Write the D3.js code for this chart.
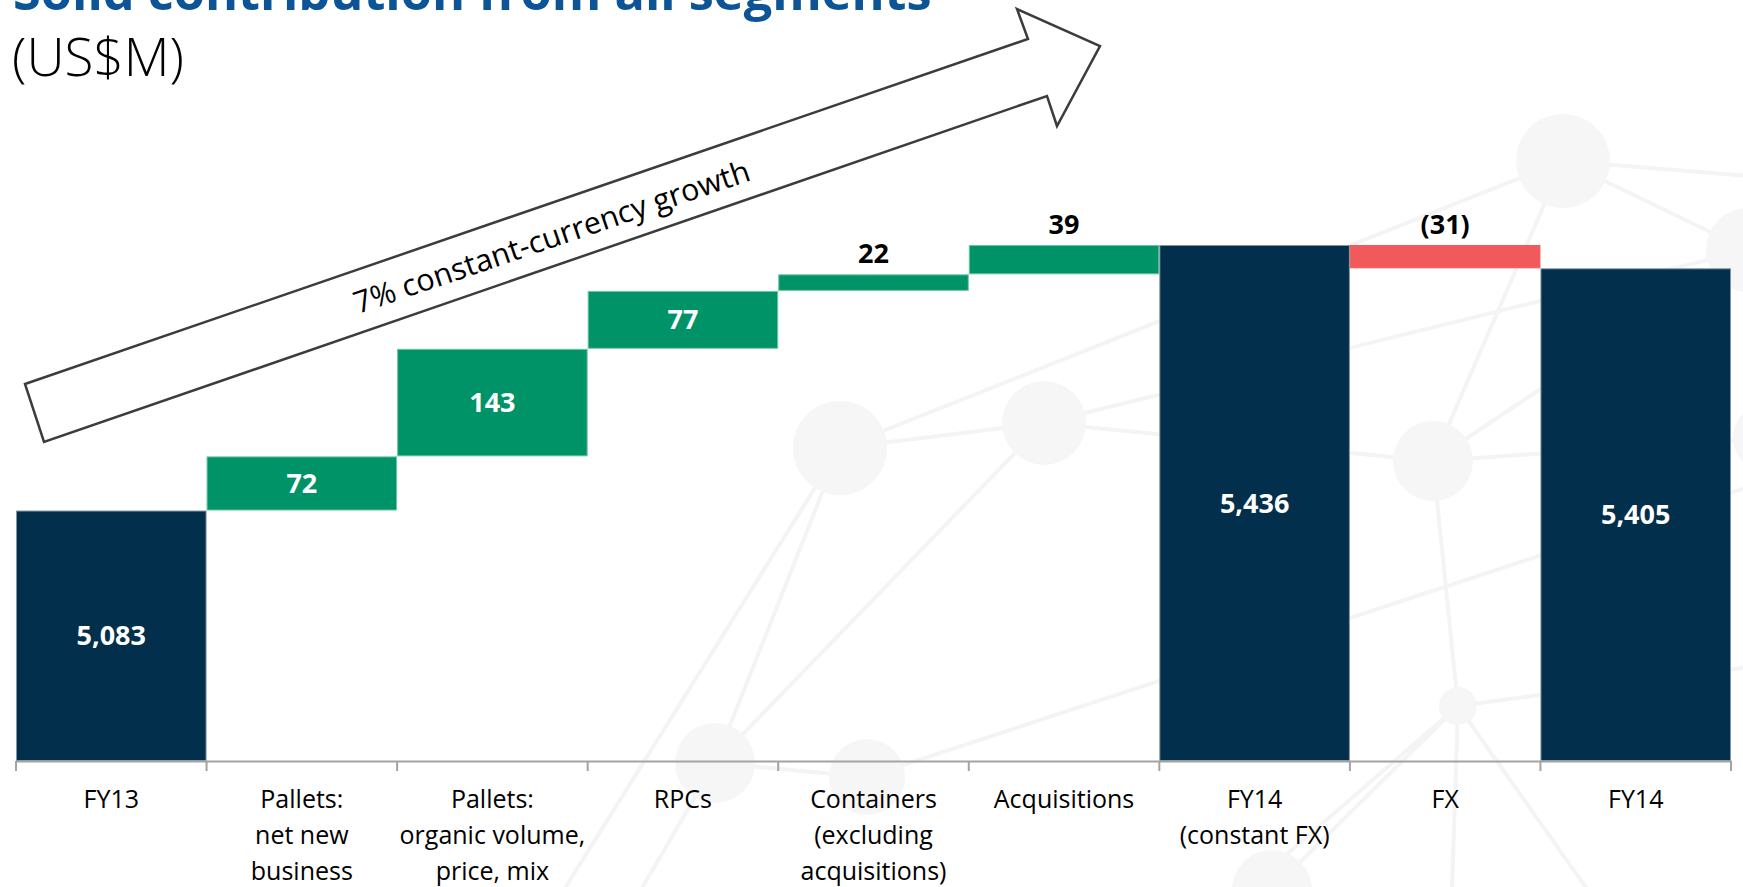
<!DOCTYPE html>
<html>
<head>
<meta charset="utf-8">
<script src="https://cdn.jsdelivr.net/npm/d3@7"></script>
<style>
    body { margin: 0; background: #ffffff; }
    svg { display: block; font-family: "Open Sans", "Noto Sans", sans-serif; }
</style>
</head>
<body>
<svg id="chart"></svg>
<script>
// chart data
var categories = ["FY13", "Pallets:|net new|business", "Pallets:|organic volume,|price, mix", "RPCs",
    "Containers|(excluding|acquisitions)", "Acquisitions", "FY14|(constant FX)", "FX", "FY14"]
var values = [5083, 72, 143, 77, 22, 39, 5436, -31, 5405]
var kinds = ["total", "step", "step", "step", "step", "step", "total", "step", "total"]
var yFloor = 4750
var yTop = 5436

var titleText = "Solid contribution from all segments"
var unitText = "(US$M)"
var arrowText = "7% constant-currency growth"

// background network (decoration only)
var nodes = [
    { id: "a", x: 1563, y: 161, r: 47 },
    { id: "b", x: 1748, y: 250, r: 42 },
    { id: "c", x: 1433, y: 461, r: 40 },
    { id: "d", x: 1458, y: 706, r: 19 },
    { id: "e", x: 1768, y: 438, r: 35 },
    { id: "f", x: 840, y: 448, r: 47 },
    { id: "g", x: 1044, y: 423, r: 42 },
    { id: "h", x: 715, y: 763, r: 40 },
    { id: "i", x: 867, y: 777, r: 38 },
    { id: "j", x: 1272, y: 890, r: 40 },
    { id: "k", x: 1800, y: 180, r: 0 },
    { id: "l", x: 1800, y: 660, r: 0 },
    { id: "m", x: 1130, y: 990, r: 0 },
    { id: "n", x: 1450, y: 950, r: 0 },
    { id: "o", x: 1630, y: 950, r: 0 },
    { id: "p", x: 1800, y: 470, r: 0 },
    { id: "q", x: 520, y: 960, r: 0 },
    { id: "r", x: 600, y: 960, r: 0 }
]
var links = [["f", "a"], ["f", "g"], ["g", "b"], ["g", "c"], ["f", "h"], ["h", "g"], ["h", "i"],
    ["c", "a"], ["c", "b"], ["c", "e"], ["c", "d"], ["a", "b"], ["a", "k"], ["d", "l"], ["d", "m"],
    ["d", "n"], ["d", "o"], ["i", "p"], ["f", "q"], ["h", "r"], ["d", "j"]]

var dimensions = {
    width: 1743,
    height: 887,
    margin: { left: 16, right: 12, top: 245, bottom: 126 }
}

var svg = d3.select("#chart")
    .attr("width", dimensions.width)
    .attr("height", dimensions.height)

// waterfall start / end per bar
var bars = []
var running = 0
categories.forEach(function (c, i) {
    var start, end
    if (kinds[i] == "total") {
        start = yFloor
        end = values[i]
        running = values[i]
    } else {
        start = running
        end = running + values[i]
        running = end
    }
    bars.push({ key: c, value: values[i], kind: kinds[i], start: start, end: end })
})

var xScale = d3.scaleBand()
    .domain(categories)
    .range([dimensions.margin.left, dimensions.width - dimensions.margin.right])
    .padding(0)

var baseY = dimensions.height - dimensions.margin.bottom
var yScale = d3.scaleLinear()
    .domain([yFloor, yTop])
    .range([baseY, dimensions.margin.top])

// background network
var nodeById = {}
nodes.forEach(function (n) { nodeById[n.id] = n })
var bg = svg.append("g")
bg.selectAll("line")
    .data(links)
    .enter()
    .append("line")
    .attr("x1", d => nodeById[d[0]].x)
    .attr("y1", d => nodeById[d[0]].y)
    .attr("x2", d => nodeById[d[1]].x)
    .attr("y2", d => nodeById[d[1]].y)
    .attr("stroke", "#f4f4f4")
    .attr("stroke-width", 4)
bg.selectAll("circle")
    .data(nodes.filter(n => n.r > 0))
    .enter()
    .append("circle")
    .attr("cx", d => d.x)
    .attr("cy", d => d.y)
    .attr("r", d => d.r)
    .attr("fill", "#f6f6f6")

// title (cut off at the top like the slide)
var title = svg.append("text")
    .attr("x", 13)
    .attr("y", 10)
    .attr("font-size", 50)
    .attr("font-weight", 700)
    .attr("fill", "#0c5496")
    .text(titleText)
var tw = title.node().getComputedTextLength()
title.attr("font-size", 50 * 919 / tw)

svg.append("text")
    .attr("x", 12)
    .attr("y", 76)
    .attr("font-size", 53)
    .attr("font-weight", 300)
    .attr("fill", "#000")
    .text(unitText)

// growth arrow
var arrowPts = [[25, 384], [1028, 39], [1017, 9], [1100, 46], [1057, 126], [1047, 96], [44, 442]]
svg.append("path")
    .attr("d", d3.line()(arrowPts) + "Z")
    .attr("fill", "#ffffff")
    .attr("stroke", "#3c3c3c")
    .attr("stroke-width", 2.5)
    .attr("stroke-linejoin", "miter")

svg.append("text")
    .attr("transform", "translate(555,247) rotate(-18.8)")
    .attr("text-anchor", "middle")
    .attr("font-size", 30.5)
    .attr("fill", "#000")
    .text(arrowText)

var colors = { total: "#022f4b", up: "#009367", down: "#f05a5b" }
var strokes = { total: "#7f94a6", up: "#6fc7a3", down: "#f05a5b" }
function barColor(d) {
    if (d.kind == "total") return colors.total
    return d.value >= 0 ? colors.up : colors.down
}
function barStroke(d) {
    if (d.kind == "total") return strokes.total
    return d.value >= 0 ? strokes.up : strokes.down
}

svg.append("g")
    .selectAll("rect")
    .data(bars)
    .enter()
    .append("rect")
    .attr("x", d => xScale(d.key) + 0.5)
    .attr("y", d => yScale(Math.max(d.start, d.end)) + 0.5)
    .attr("width", xScale.bandwidth() - 1)
    .attr("height", d => Math.abs(yScale(d.start) - yScale(d.end)) - 1)
    .attr("fill", barColor)
    .attr("stroke", barStroke)
    .attr("stroke-width", 1)

var fmt = d3.format(",")
function labelText(d) {
    return d.value < 0 ? "(" + fmt(-d.value) + ")" : fmt(d.value)
}

svg.append("g")
    .selectAll("text")
    .data(bars)
    .enter()
    .append("text")
    .attr("x", d => xScale(d.key) + xScale.bandwidth() / 2)
    .attr("y", function (d) {
        var top = yScale(Math.max(d.start, d.end))
        var bottom = yScale(Math.min(d.start, d.end))
        if (bottom - top > 40) return (top + bottom) / 2 + 9.5
        return top - 11
    })
    .attr("text-anchor", "middle")
    .attr("font-size", 27)
    .attr("font-weight", 700)
    .attr("fill", function (d) {
        var h = Math.abs(yScale(d.start) - yScale(d.end))
        return h > 40 ? "#ffffff" : "#000000"
    })
    .text(labelText)

// axis
var xAxis = d3.axisBottom(xScale)
    .tickSize(0)
    .tickSizeOuter(0)
    .tickFormat("")

var axisG = svg.append("g")
    .attr("class", "x-axis")
    .attr("transform", "translate(0," + baseY + ")")
    .call(xAxis)
axisG.select(".domain")
    .attr("stroke", "#a3a3a3")
    .attr("stroke-width", 2)

var bounds = categories.map(c => xScale(c)).concat([xScale(categories[categories.length - 1]) + xScale.bandwidth()])
axisG.selectAll(".bound")
    .data(bounds)
    .enter()
    .append("line")
    .attr("class", "bound")
    .attr("x1", d => d)
    .attr("x2", d => d)
    .attr("y1", 0)
    .attr("y2", 10)
    .attr("stroke", "#a3a3a3")
    .attr("stroke-width", 2)

var catLabels = svg.append("g")
    .selectAll("text")
    .data(categories)
    .enter()
    .append("text")
    .attr("text-anchor", "middle")
    .attr("font-size", 25)
    .attr("fill", "#000")
catLabels.each(function (c) {
    var lines = c.split("|")
    var t = d3.select(this)
    lines.forEach(function (l, j) {
        t.append("tspan")
            .attr("x", xScale(c) + xScale.bandwidth() / 2)
            .attr("y", baseY + 47 + j * 36)
            .text(l)
    })
})
</script>
</body>
</html>
